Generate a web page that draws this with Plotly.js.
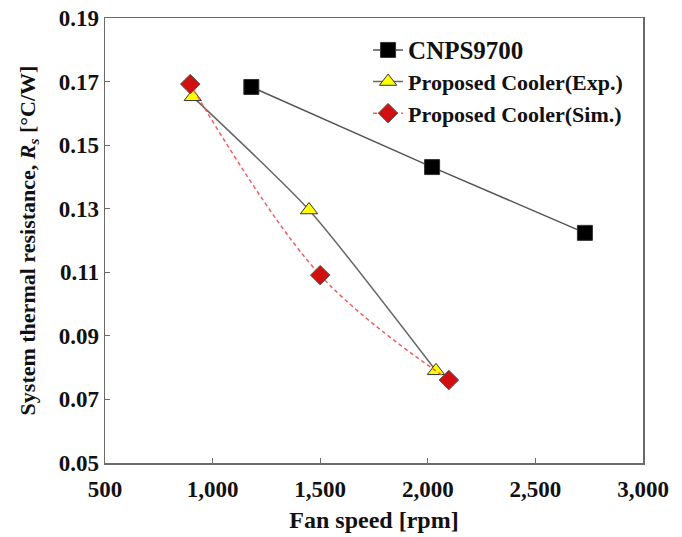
<!DOCTYPE html>
<html>
<head>
<meta charset="utf-8">
<script src="https://cdn.plot.ly/plotly-3.0.1.min.js"></script>
<style>html,body{margin:0;padding:0;background:#fff;}#chart{width:682px;height:537px;}</style>
</head>
<body>
<div id="chart"></div>
<script>
// Data
var cnpsSpeed = [1180, 2020, 2730];
var cnpsRes   = [0.1683, 0.1431, 0.1224];
var expSpeed  = [908, 1448, 2038];
var expRes    = [0.1652, 0.1296, 0.0790];
var simSpeed  = [896, 1500, 2098];
var simRes    = [0.1692, 0.1091, 0.0761];
var xTicks = [500, 1000, 1500, 2000, 2500, 3000];
var xTickText = ['500', '1,000', '1,500', '2,000', '2,500', '3,000'];
var yTicks = [0.05, 0.07, 0.09, 0.11, 0.13, 0.15, 0.17, 0.19];
var yTickText = ['0.05', '0.07', '0.09', '0.11', '0.13', '0.15', '0.17', '0.19'];
var seriesNames = ['CNPS9700', 'Proposed Cooler(Exp.)', 'Proposed Cooler(Sim.)'];

var serif = 'Liberation Serif, Times New Roman, serif';
function b(s) { return '<b>' + s + '</b>'; }

var traces = [
  {
    x: cnpsSpeed, y: cnpsRes, name: '<span style="font-size:25px">' + b(seriesNames[0]) + '</span>',
    type: 'scatter', mode: 'lines+markers', legendgroup: 'a',
    line: {color: '#555555', width: 1.5, shape: 'spline', smoothing: 0.6},
    marker: {symbol: 'square', size: 15, color: '#000000', line: {color: '#333333', width: 1}}
  },
  {
    x: expSpeed, y: expRes, name: b(seriesNames[1]), type: 'scatter', mode: 'lines+markers',
    legendgroup: 'b',
    line: {color: '#666666', width: 1.5, shape: 'spline', smoothing: 0.6},
    marker: {symbol: 'triangle-up', size: 15, color: '#ffff00', line: {color: '#333333', width: 1}}
  },
  {
    x: simSpeed, y: simRes, name: b(seriesNames[2]), type: 'scatter', mode: 'lines+markers',
    legendgroup: 'c',
    line: {color: '#f06060', width: 1.5, dash: '4px,3px', shape: 'spline', smoothing: 1},
    marker: {symbol: 'diamond', size: 15, color: '#d01010', line: {color: '#555555', width: 1}}
  }
];

var axisCommon = {
  showgrid: false, zeroline: false,
  showline: true, linecolor: '#6b6b6b', linewidth: 1.5, mirror: true,
  ticks: 'inside', ticklen: 5, tickwidth: 1, tickcolor: '#6b6b6b',
  tickfont: {family: serif, size: 23, color: '#111111'}
};

var layout = {
  width: 682, height: 537,
  margin: {l: 105, r: 39, t: 18, b: 74},
  paper_bgcolor: '#ffffff', plot_bgcolor: '#ffffff',
  showlegend: true,
  legend: {
    x: 0.489, y: 0.975, xanchor: 'left', yanchor: 'top',
    font: {family: serif, size: 22, color: '#111111'},
    bgcolor: 'rgba(0,0,0,0)', traceorder: 'grouped', tracegroupgap: 0,
    itemwidth: 30
  },
  xaxis: Object.assign({}, axisCommon, {
    range: [500, 3000], tickvals: xTicks, ticktext: xTickText.map(b),
    ticklabelstandoff: 5,
    title: {text: b('Fan speed [rpm]'), font: {family: serif, size: 24, color: '#111111'}, standoff: 10}
  }),
  yaxis: Object.assign({}, axisCommon, {
    range: [0.05, 0.19], tickvals: yTicks, ticktext: yTickText.map(b),
    title: {text: b('System thermal resistance, <i>R<sub>s</sub></i> [°C/W]'), font: {family: serif, size: 22, color: '#111111'}, standoff: 17}
  })
};

Plotly.newPlot('chart', traces, layout, {displayModeBar: false, staticPlot: true});
</script>
</body>
</html>
